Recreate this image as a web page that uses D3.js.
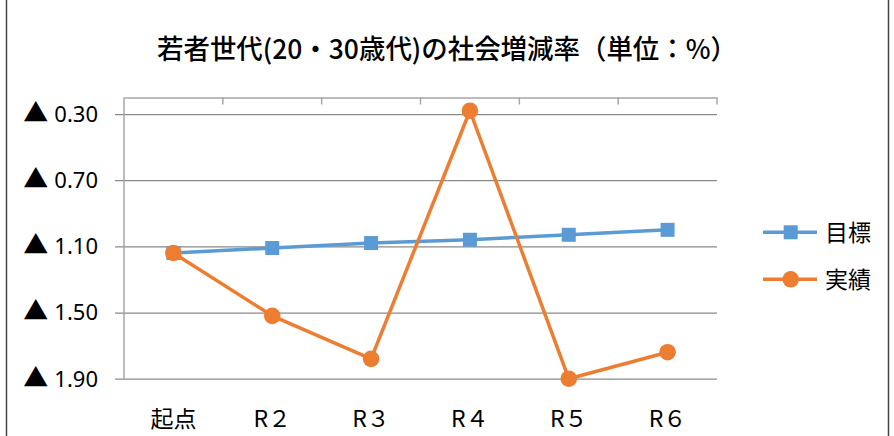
<!DOCTYPE html>
<html>
<head>
<meta charset="utf-8">
<script src="https://cdn.jsdelivr.net/npm/d3@7"></script>
<style>
  html, body { margin: 0; padding: 0; background: #fff; }
  svg { display: block; }
</style>
</head>
<body>
<svg id="chart" width="894" height="436"></svg>
<script>
// 若者世代の社会増減率（％）: 起点〜R6
const categories = ["起点", "R２", "R３", "R４", "R５", "R６"];
const targetValues = [-1.14, -1.11, -1.08, -1.06, -1.03, -1.00];   // 目標
const actualValues = [-1.14, -1.52, -1.78, -0.28, -1.90, -1.74];   // 実績
const yTicks = [-0.3, -0.7, -1.1, -1.5, -1.9];
const seriesNames = ["目標", "実績"];
const title = "若者世代(20・30歳代)の社会増減率（単位：%）";

const W = 894, H = 436;
const plot = { left: 124, right: 717, top: 97.5, bottom: 378.7 };
const blue = "#5B9BD5", orange = "#ED7D31";
const jpFont = "'Noto Sans CJK JP', 'Noto Sans', sans-serif";

const svg = d3.select("#chart");

// outer frame of the chart object
svg.append("line").attr("x1", 6.5).attr("x2", 6.5).attr("y1", 0).attr("y2", H)
  .attr("stroke", "#444").attr("stroke-width", 1.5);
svg.append("line").attr("x1", 888.5).attr("x2", 888.5).attr("y1", 0).attr("y2", H)
  .attr("stroke", "#444").attr("stroke-width", 1.5);

// title
svg.append("text")
  .attr("x", W / 2).attr("y", 59)
  .attr("text-anchor", "middle")
  .attr("font-family", jpFont)
  .attr("font-size", 27)
  .attr("font-weight", 500)
  .attr("textLength", 580)
  .attr("lengthAdjust", "spacingAndGlyphs")
  .attr("fill", "#000")
  .text(title);

const x = d3.scaleBand().domain(categories).range([plot.left, plot.right]);
const y = d3.scaleLinear().domain([-0.2, -1.9]).range([plot.top, plot.bottom]);

// horizontal gridlines with outward tick marks
const yAxis = d3.axisLeft(y)
  .tickValues(yTicks)
  .tickSize(plot.right - plot.left + 9)
  .tickFormat("");
const gy = svg.append("g")
  .attr("transform", `translate(${plot.right},0)`)
  .call(yAxis);
gy.select(".domain").remove();
gy.selectAll(".tick line").attr("stroke", "#8a8a8a").attr("stroke-width", 1.3);
gy.selectAll(".tick text").remove();

// y tick labels: ▲ marks negative values
const yLabels = svg.append("g").selectAll("text")
  .data(yTicks)
  .join("text")
  .attr("x", 98)
  .attr("y", d => y(d))
  .attr("dy", "0.36em")
  .attr("text-anchor", "end")
  .attr("font-family", "'Noto Sans', sans-serif")
  .attr("font-size", 22)
  .attr("fill", "#000");
yLabels.append("tspan")
  .attr("font-family", jpFont)
  .attr("font-size", 25)
  .text(d => d < 0 ? "▲" : "");
yLabels.append("tspan")
  .attr("dx", 6)
  .text(d => d3.format(".2f")(Math.abs(d)));

// vertical value axis line
svg.append("line")
  .attr("x1", plot.left).attr("x2", plot.left)
  .attr("y1", plot.top).attr("y2", plot.bottom)
  .attr("stroke", "#a6a6a6").attr("stroke-width", 1.5);

// category axis crossing at the top, tick marks between categories
const xAxis = d3.axisBottom(x).tickSize(0).tickFormat("");
const gx = svg.append("g").attr("transform", `translate(0,${plot.top})`).call(xAxis);
gx.select(".domain").attr("stroke", "#a6a6a6").attr("stroke-width", 1.5);
gx.selectAll(".tick").remove();
const bounds = d3.range(categories.length + 1).map(i => plot.left + i * x.step());
gx.selectAll("line.sep")
  .data(bounds.slice(1))
  .join("line")
  .attr("class", "sep")
  .attr("x1", d => d).attr("x2", d => d)
  .attr("y1", 0).attr("y2", 7)
  .attr("stroke", "#a6a6a6").attr("stroke-width", 1.5);

// category labels at the bottom
svg.append("g").selectAll("text")
  .data(categories)
  .join("text")
  .attr("x", d => x(d) + x.bandwidth() / 2)
  .attr("y", 427)
  .attr("text-anchor", "middle")
  .attr("font-family", jpFont)
  .attr("font-size", 23)
  .attr("fill", "#000")
  .text(d => d);

const cx = d => x(d) + x.bandwidth() / 2;
const line = d3.line().x(d => cx(d.c)).y(d => y(d.v));
const targetData = categories.map((c, i) => ({ c, v: targetValues[i] }));
const actualData = categories.map((c, i) => ({ c, v: actualValues[i] }));

// 目標 series
svg.append("path").datum(targetData)
  .attr("d", line).attr("fill", "none")
  .attr("stroke", blue).attr("stroke-width", 3.5).attr("stroke-linejoin", "round");
svg.append("g").selectAll("rect")
  .data(targetData)
  .join("rect")
  .attr("x", d => cx(d.c) - 7).attr("y", d => y(d.v) - 7)
  .attr("width", 14).attr("height", 14)
  .attr("fill", blue);

// 実績 series
svg.append("path").datum(actualData)
  .attr("d", line).attr("fill", "none")
  .attr("stroke", orange).attr("stroke-width", 3.5).attr("stroke-linejoin", "round");
svg.append("g").selectAll("circle")
  .data(actualData)
  .join("circle")
  .attr("cx", d => cx(d.c)).attr("cy", d => y(d.v))
  .attr("r", 8.3)
  .attr("fill", orange);

// legend
const legend = svg.append("g");
const legendItems = [
  { name: seriesNames[0], color: blue, shape: "square", yy: 232.3 },
  { name: seriesNames[1], color: orange, shape: "circle", yy: 279.3 }
];
legendItems.forEach(it => {
  legend.append("line")
    .attr("x1", 763).attr("x2", 817).attr("y1", it.yy).attr("y2", it.yy)
    .attr("stroke", it.color).attr("stroke-width", 3.5);
  if (it.shape === "square") {
    legend.append("rect").attr("x", 790.7 - 7).attr("y", it.yy - 7)
      .attr("width", 14).attr("height", 14).attr("fill", it.color);
  } else {
    legend.append("circle").attr("cx", 790.7).attr("cy", it.yy).attr("r", 8.3)
      .attr("fill", it.color);
  }
  legend.append("text")
    .attr("x", 825).attr("y", it.yy)
    .attr("dy", "0.36em")
    .attr("font-family", jpFont)
    .attr("font-size", 23)
    .attr("fill", "#000")
    .text(it.name);
});
</script>
</body>
</html>
